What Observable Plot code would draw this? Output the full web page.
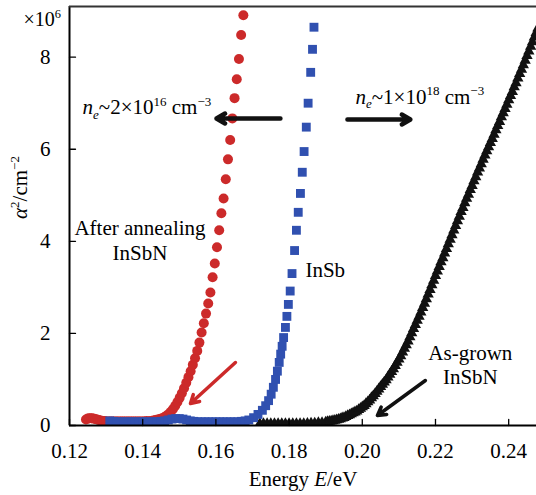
<!DOCTYPE html>
<html>
<head>
<meta charset="utf-8">
<script src="https://cdn.jsdelivr.net/npm/d3@7"></script>
<script src="https://cdn.jsdelivr.net/npm/@observablehq/plot@0.6"></script>
<style>
  html, body { margin: 0; padding: 0; background: #fff; }
  #chart svg { display: block; }
  #chart svg, #chart svg text, #chart svg tspan { font-family: "Liberation Serif", "Times New Roman", "DejaVu Serif", serif !important; }
</style>
</head>
<body>
<div id="chart"></div>
<script>
// ---- data (photon energy E in eV, alpha^2 in units of 10^6 cm^-2) ----
const xTicks = [0.12, 0.14, 0.16, 0.18, 0.20, 0.22, 0.24];
const yTicks = [0, 2, 4, 6, 8];

// After annealing InSbN (red circles)
const annealedInSbN = [
  [0.1245,0.13],[0.125,0.15],[0.1255,0.16],[0.126,0.16],[0.1265,0.15],[0.127,0.14],[0.1275,0.13],[0.128,0.12],
  [0.1285,0.11],[0.129,0.1],[0.1295,0.1],[0.130,0.09],[0.131,0.09],[0.132,0.09],[0.133,0.09],[0.134,0.09],
  [0.135,0.09],[0.136,0.09],[0.137,0.09],[0.138,0.09],[0.139,0.09],[0.140,0.09],[0.141,0.1],[0.142,0.1],
  [0.1429,0.11],[0.1435,0.12],[0.1441,0.13],[0.1447,0.14],[0.1453,0.16],[0.1459,0.18],[0.1465,0.21],[0.1471,0.25],
  [0.1477,0.3],[0.1483,0.36],[0.1489,0.43],[0.1495,0.51],[0.1501,0.6],[0.1507,0.7],[0.1513,0.81],[0.1519,0.93],
  [0.1525,1.05],[0.1531,1.18],[0.1537,1.32],[0.1543,1.46],[0.1549,1.62],[0.1555,1.8],[0.1561,2.02],[0.1567,2.22],
  [0.1573,2.43],[0.1579,2.65],[0.1585,2.89],[0.1591,3.22],[0.1597,3.52],[0.1603,3.87],[0.1609,4.24],[0.1615,4.61],
  [0.1621,4.93],[0.1627,5.35],[0.1633,5.78],[0.1639,6.2],[0.1645,6.67],[0.1651,7.11],[0.1657,7.52],[0.1663,7.96],
  [0.1669,8.48],[0.1675,8.91]
];

// InSb (blue squares)
const inSb = [
  [0.131,0.1],[0.132,0.09],[0.133,0.08],[0.134,0.08],[0.135,0.08],[0.136,0.08],[0.137,0.08],[0.138,0.08],
  [0.139,0.08],[0.140,0.08],[0.141,0.08],[0.142,0.08],[0.143,0.08],[0.144,0.08],[0.145,0.09],[0.146,0.1],
  [0.147,0.12],[0.148,0.14],[0.149,0.15],[0.150,0.15],[0.151,0.14],[0.152,0.12],[0.153,0.1],[0.154,0.09],
  [0.155,0.08],[0.156,0.08],[0.157,0.08],[0.158,0.08],[0.159,0.08],[0.160,0.08],[0.161,0.08],[0.162,0.08],
  [0.163,0.08],[0.164,0.08],[0.165,0.08],[0.166,0.08],[0.167,0.09],[0.168,0.1],[0.169,0.12],
  [0.1703,0.17],[0.1715,0.24],[0.1727,0.33],[0.1736,0.43],[0.1744,0.54],[0.1751,0.68],[0.1757,0.83],[0.1763,1.0],
  [0.1768,1.18],[0.1773,1.37],[0.1777,1.55],[0.1781,1.72],[0.1785,1.91],[0.1790,2.13],[0.1794,2.37],[0.1798,2.63],
  [0.1803,2.92],[0.1808,3.3],[0.1815,3.8],[0.1820,4.24],[0.1825,4.63],[0.1831,5.04],[0.1836,5.5],[0.1841,5.95],
  [0.1847,6.48],[0.1852,7.0],[0.1859,7.67],[0.1864,8.17],[0.1868,8.65]
];

// As-grown InSbN (black triangles)
const asGrownInSbN = [
  [0.172,0.04],[0.173,0.04],[0.174,0.04],[0.175,0.04],[0.176,0.04],[0.177,0.04],[0.178,0.04],[0.179,0.04],
  [0.180,0.04],[0.181,0.04],[0.182,0.04],[0.183,0.04],[0.184,0.04],[0.185,0.045],[0.186,0.05],[0.187,0.05],
  [0.188,0.06],[0.189,0.06],[0.190,0.07],[0.1905,0.08],[0.191,0.085],[0.1915,0.09],[0.192,0.1],[0.1925,0.11],
  [0.193,0.12],[0.1935,0.13],[0.194,0.14],[0.1945,0.16],[0.195,0.17],[0.1955,0.19],[0.196,0.21],[0.1965,0.23],
  [0.197,0.25],[0.1975,0.27],[0.198,0.29],[0.1985,0.31],[0.199,0.34],[0.1995,0.37],[0.200,0.4],[0.2005,0.43],
  [0.201,0.47],[0.2015,0.51],[0.202,0.55],[0.2025,0.6],[0.203,0.64],[0.2035,0.69],[0.204,0.74],[0.2045,0.79],
  [0.205,0.84],[0.2055,0.89],[0.206,0.94],[0.2065,0.99],[0.207,1.05],[0.2075,1.11],[0.208,1.17],[0.2085,1.23],
  [0.209,1.3],[0.2095,1.37],[0.210,1.44],[0.2105,1.51],[0.211,1.59],[0.2115,1.67],[0.212,1.75],[0.2125,1.83],
  [0.213,1.92],[0.2135,2.01],[0.214,2.1],[0.2145,2.19],[0.215,2.28],[0.2155,2.37],[0.216,2.46],[0.2165,2.56],
  [0.217,2.65],[0.2175,2.75],[0.218,2.85],[0.2185,2.95],[0.219,3.05],[0.2195,3.15],[0.220,3.25],[0.2205,3.35],
  [0.221,3.45],[0.2215,3.55],[0.222,3.64],[0.2225,3.74],[0.223,3.84],[0.2235,3.94],[0.224,4.04],[0.2245,4.14],
  [0.225,4.24],[0.2255,4.34],[0.226,4.44],[0.2265,4.54],[0.227,4.64],[0.2275,4.73],[0.228,4.83],[0.2285,4.93],
  [0.229,5.02],[0.2295,5.12],[0.230,5.21],[0.2305,5.31],[0.231,5.4],[0.2315,5.5],[0.232,5.59],[0.2325,5.68],
  [0.233,5.78],[0.2335,5.87],[0.234,5.96],[0.2345,6.05],[0.235,6.14],[0.2355,6.23],[0.236,6.32],[0.2365,6.42],
  [0.237,6.51],[0.2375,6.6],[0.238,6.7],[0.2385,6.79],[0.239,6.88],[0.2395,6.97],[0.240,7.07],[0.2405,7.16],
  [0.241,7.25],[0.2415,7.35],[0.242,7.44],[0.2425,7.54],[0.243,7.64],[0.2435,7.73],[0.244,7.83],[0.2445,7.93],
  [0.245,8.03],[0.2455,8.13],[0.246,8.23],[0.2465,8.33],[0.247,8.43],[0.2475,8.53],[0.248,8.63]
];

// text labels (markup: *italic*, ^{sup}, _{sub})
const yLabel = "*α*^{2}/cm^{−2}";
const xLabel = "Energy *E*/eV";
const scaleLabel = "×10^{6}";
const lowDensityLabel = "*n*_{*e*}~2×10^{16} cm^{−3}";
const highDensityLabel = "*n*_{*e*}~1×10^{18} cm^{−3}";
const annealedLabel = "After annealing\nInSbN";
const inSbLabel = "InSb";
const asGrownLabel = "As-grown\nInSbN";

// ---- chart ----
const FS = 21;
const FONT = "Liberation Serif";
const RED = "#cc2a2a", BLUE = "#3050b0", BLACK = "#111";
const tickShapeUp = {draw(ctx, l) { ctx.moveTo(0, 0); ctx.lineTo(0, -l); }};

const chart = Plot.plot({
  width: 536,
  height: 495,
  marginLeft: 69,
  marginRight: 0,
  marginTop: 6,
  marginBottom: 70,
  x: {domain: [0.12, 0.2476]},
  y: {domain: [0, 9.1]},
  style: {fontFamily: FONT, fontSize: FS + "px", color: "black", background: "white"},
  marks: [
    Plot.dot(asGrownInSbN, {x: d => d[0], y: d => d[1], symbol: "triangle", r: 4.2, fill: BLACK, clip: true}),
    Plot.dot(annealedInSbN, {x: d => d[0], y: d => d[1], symbol: "circle", r: 5, fill: RED, clip: true}),
    Plot.dot(inSb, {x: d => d[0], y: d => d[1], symbol: "square", r: 5, fill: BLUE, clip: true}),

    // tick labels
    Plot.axisX({ticks: xTicks, tickSize: 0, tickPadding: 18, tickFormat: d => d.toFixed(2), fontSize: FS, fontFamily: FONT}),
    Plot.axisY({ticks: yTicks, tickSize: 0, tickPadding: 19, tickFormat: d => String(d), fontSize: FS, fontFamily: FONT}),
    // inward ticks
    Plot.vectorX(xTicks, {frameAnchor: "bottom", length: 6, rotate: 0, anchor: "start", shape: tickShapeUp, stroke: "black", strokeWidth: 1.3}),
    Plot.vectorY(yTicks, {frameAnchor: "left", length: 6, rotate: 90, anchor: "start", shape: tickShapeUp, stroke: "black", strokeWidth: 1.3}),
    // frame lines
    Plot.ruleX([0.12], {stroke: "black", strokeWidth: 2}),
    Plot.ruleY([0], {stroke: "black", strokeWidth: 2}),
    Plot.ruleY([9.1], {stroke: "#333", strokeWidth: 2}),

    // axis titles
    Plot.text([xLabel], {text: d => d, frameAnchor: "bottom", lineAnchor: "middle", dy: 54, fontSize: FS, fontFamily: FONT}),
    Plot.text([yLabel], {text: d => d, frameAnchor: "left", lineAnchor: "middle", dx: -49, dy: 3, rotate: -90, fontSize: FS, fontFamily: FONT}),
    Plot.text([scaleLabel], {text: d => d, frameAnchor: "top-left", dx: -46, dy: 13, textAnchor: "start", lineAnchor: "middle", fontSize: 20, fontFamily: FONT}),

    // annotations
    Plot.text([lowDensityLabel], {text: d => d, x: 0.12355, y: 6.91, textAnchor: "start", fontSize: FS, fontFamily: FONT}),
    Plot.text([highDensityLabel], {text: d => d, x: 0.19812, y: 7.135, textAnchor: "start", fontSize: FS, fontFamily: FONT}),
    Plot.text([annealedLabel], {text: d => d, x: 0.13926, y: 4.03, lineHeight: 1.19, fontSize: FS, fontFamily: FONT}),
    Plot.text([inSbLabel], {text: d => d, x: 0.18446, y: 3.37, textAnchor: "start", fontSize: FS, fontFamily: FONT}),
    Plot.text([asGrownLabel], {text: d => d, x: 0.22953, y: 1.325, lineHeight: 1.14, fontSize: FS, fontFamily: FONT}),

    // arrows
    Plot.arrow([0], {x1: 0.17763, y1: 6.668, x2: 0.16015, y2: 6.668, stroke: BLACK, strokeWidth: 4.5, headLength: 3.3}),
    Plot.arrow([0], {x1: 0.19594, y1: 6.646, x2: 0.21314, y2: 6.646, stroke: BLACK, strokeWidth: 4.5, headLength: 3.3}),
    Plot.arrow([0], {x1: 0.16534, y1: 1.368, x2: 0.15305, y2: 0.478, stroke: RED, strokeWidth: 3.5, headLength: 4}),
    Plot.arrow([0], {x1: 0.21724, y1: 0.977, x2: 0.20413, y2: 0.217, stroke: BLACK, strokeWidth: 3.5, headLength: 4})
  ]
});

// convert markup into tspans (italic, superscript, subscript)
const svgNS = "http://www.w3.org/2000/svg";
function richify(el) {
  const s = el.textContent;
  if (!/[\^_*]/.test(s)) return;
  const fs = parseFloat(el.getAttribute("font-size") || el.parentNode.getAttribute("font-size")) || FS;
  const parts = s.split(/(\^\{[^}]*\}|_\{[^}]*\}|\*[^*]*\*)/).filter(p => p !== "");
  el.textContent = "";
  let shift = 0;
  for (const p of parts) {
    let kind = "normal", content = p, italic = false;
    if (p.startsWith("^{")) { kind = "sup"; content = p.slice(2, -1); }
    else if (p.startsWith("_{")) { kind = "sub"; content = p.slice(2, -1); }
    if (content.length > 1 && content.startsWith("*") && content.endsWith("*")) { italic = true; content = content.slice(1, -1); }
    const target = kind === "sup" ? -0.4 * fs : kind === "sub" ? 0.22 * fs : 0;
    const ts = document.createElementNS(svgNS, "tspan");
    if (target - shift !== 0) ts.setAttribute("dy", (target - shift).toFixed(2));
    shift = target;
    if (kind !== "normal") ts.setAttribute("font-size", (0.62 * fs).toFixed(2));
    if (italic) ts.setAttribute("font-style", "italic");
    ts.textContent = content;
    el.appendChild(ts);
  }
}
chart.querySelectorAll("text").forEach(richify);
chart.setAttribute("font-family", FONT);

document.getElementById("chart").appendChild(chart);
</script>
</body>
</html>
